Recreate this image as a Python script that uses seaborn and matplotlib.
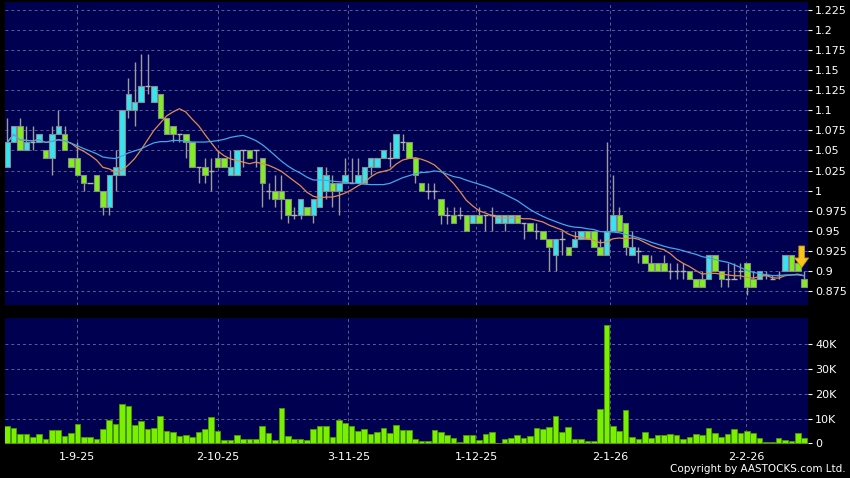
import numpy as np
import pandas as pd
import seaborn as sns
import matplotlib.pyplot as plt

# daily OHLC (HKD), one entry per trading day
opens = [1.03, 1.06, 1.08, 1.05, 1.06, 1.06, 1.05, 1.04, 1.07, 1.07,
         1.04, 1.04, 1.02, 1.01, 1.02, 1.00, 0.98, 1.02, 1.02, 1.10,
         1.10, 1.11, 1.13, 1.11, 1.12, 1.09, 1.08, 1.07, 1.07, 1.06,
         1.03, 1.03, 1.025, 1.04, 1.04, 1.02, 1.02, 1.05, 1.05, 1.05,
         1.04, 1.00, 1.00, 1.00, 0.99, 0.97, 0.97, 0.98, 0.97, 0.98,
         1.00, 1.01, 1.00, 1.01, 1.01, 1.01, 1.01, 1.03, 1.03, 1.04,
         1.04, 1.04, 1.06, 1.06, 1.04, 1.01, 1.00, 1.00, 0.99, 0.97,
         0.97, 0.97, 0.97, 0.96, 0.97, 0.97, 0.97, 0.96, 0.96, 0.96,
         0.97, 0.96, 0.96, 0.95, 0.95, 0.94, 0.92, 0.94, 0.93, 0.93,
         0.94, 0.95, 0.95, 0.93, 0.92, 0.95, 0.97, 0.96, 0.92, 0.925,
         0.92, 0.91, 0.91, 0.91, 0.90, 0.90, 0.90, 0.90, 0.89, 0.89,
         0.89, 0.92, 0.90, 0.89, 0.89, 0.90, 0.91, 0.89, 0.89, 0.895,
         0.89, 0.895, 0.90, 0.92, 0.91, 0.89]
highs = [1.09, 1.08, 1.09, 1.08, 1.08, 1.07, 1.05, 1.08, 1.10, 1.08,
         1.04, 1.06, 1.02, 1.01, 1.02, 1.00, 1.02, 1.05, 1.10, 1.14,
         1.16, 1.17, 1.17, 1.13, 1.12, 1.09, 1.08, 1.07, 1.07, 1.06,
         1.03, 1.04, 1.04, 1.05, 1.04, 1.05, 1.05, 1.05, 1.05, 1.05,
         1.04, 1.01, 1.02, 1.02, 0.99, 0.98, 0.99, 0.98, 0.99, 1.03,
         1.03, 1.02, 1.01, 1.04, 1.04, 1.04, 1.03, 1.04, 1.04, 1.05,
         1.06, 1.07, 1.07, 1.06, 1.04, 1.01, 1.01, 1.01, 0.99, 0.98,
         0.98, 0.98, 0.97, 0.97, 0.98, 0.97, 0.98, 0.97, 0.97, 0.97,
         0.97, 0.96, 0.96, 0.96, 0.95, 0.94, 0.94, 0.95, 0.93, 0.95,
         0.95, 0.95, 0.95, 0.94, 1.06, 1.02, 0.98, 0.96, 0.95, 0.93,
         0.92, 0.92, 0.91, 0.92, 0.91, 0.91, 0.91, 0.90, 0.89, 0.90,
         0.92, 0.92, 0.90, 0.91, 0.91, 0.91, 0.91, 0.90, 0.90, 0.90,
         0.895, 0.90, 0.92, 0.92, 0.91, 0.90]
lows = [1.03, 1.06, 1.05, 1.05, 1.05, 1.06, 1.04, 1.02, 1.07, 1.05,
        1.03, 1.02, 1.00, 1.01, 1.00, 0.97, 0.97, 1.00, 1.02, 1.09,
        1.08, 1.11, 1.12, 1.11, 1.09, 1.07, 1.06, 1.06, 1.04, 1.03,
        1.01, 1.01, 1.00, 1.03, 1.03, 1.02, 1.02, 1.03, 1.04, 1.03,
        0.98, 0.99, 0.98, 0.965, 0.96, 0.965, 0.965, 0.97, 0.96, 0.98,
        0.99, 0.98, 0.97, 1.01, 1.01, 1.01, 1.01, 1.02, 1.03, 1.04,
        1.03, 1.04, 1.05, 1.04, 1.01, 1.00, 0.99, 0.99, 0.958, 0.958,
        0.96, 0.965, 0.95, 0.96, 0.96, 0.95, 0.95, 0.96, 0.95, 0.96,
        0.96, 0.94, 0.95, 0.94, 0.94, 0.90, 0.90, 0.92, 0.92, 0.93,
        0.94, 0.94, 0.93, 0.92, 0.92, 0.95, 0.95, 0.92, 0.92, 0.91,
        0.91, 0.90, 0.90, 0.90, 0.89, 0.89, 0.89, 0.89, 0.88, 0.88,
        0.89, 0.90, 0.88, 0.88, 0.89, 0.89, 0.87, 0.88, 0.89, 0.89,
        0.89, 0.89, 0.90, 0.90, 0.90, 0.88]
closes = [1.06, 1.08, 1.05, 1.06, 1.06, 1.07, 1.04, 1.07, 1.08, 1.05,
          1.03, 1.02, 1.01, 1.01, 1.00, 0.98, 1.02, 1.03, 1.10, 1.12,
          1.11, 1.13, 1.13, 1.13, 1.09, 1.07, 1.07, 1.07, 1.06, 1.03,
          1.03, 1.02, 1.025, 1.03, 1.03, 1.03, 1.05, 1.05, 1.04, 1.05,
          1.01, 1.00, 0.99, 0.99, 0.97, 0.97, 0.99, 0.97, 0.99, 1.03,
          1.02, 1.00, 1.01, 1.02, 1.01, 1.02, 1.03, 1.04, 1.04, 1.05,
          1.04, 1.07, 1.06, 1.04, 1.02, 1.00, 1.00, 1.00, 0.97, 0.97,
          0.96, 0.97, 0.95, 0.97, 0.96, 0.97, 0.97, 0.97, 0.97, 0.97,
          0.96, 0.96, 0.95, 0.95, 0.94, 0.93, 0.94, 0.94, 0.92, 0.94,
          0.95, 0.94, 0.93, 0.92, 0.95, 0.97, 0.95, 0.93, 0.93, 0.925,
          0.91, 0.90, 0.90, 0.90, 0.90, 0.90, 0.90, 0.89, 0.88, 0.88,
          0.92, 0.90, 0.89, 0.89, 0.89, 0.90, 0.88, 0.88, 0.90, 0.895,
          0.89, 0.895, 0.92, 0.90, 0.90, 0.88]
# volume in thousands of shares
volumes = [7.0, 6.0, 3.8, 3.8, 2.7, 3.6, 1.9, 5.3, 5.3, 3.1,
           4.0, 7.9, 2.6, 2.7, 1.8, 5.8, 9.3, 7.8, 15.8, 15.1,
           7.3, 9.2, 5.8, 6.2, 11.0, 4.9, 4.6, 3.1, 3.2, 2.6,
           4.7, 5.8, 10.5, 4.9, 1.3, 1.3, 3.2, 1.8, 1.8, 1.9,
           6.9, 4.2, 1.3, 14.3, 2.8, 1.8, 1.8, 1.3, 5.8, 7.0,
           6.8, 2.6, 9.6, 8.4, 7.0, 4.9, 5.6, 3.8, 4.4, 6.0,
           4.0, 7.4, 5.4, 5.5, 1.6, 0.9, 1.1, 5.4, 4.4, 3.4,
           2.3, 0.7, 3.4, 3.4, 1.5, 3.8, 4.4, 0.0, 1.9, 2.3,
           3.5, 2.2, 3.0, 6.1, 5.7, 6.5, 10.9, 4.6, 6.5, 1.9,
           1.8, 0.9, 0.9, 14.0, 47.8, 6.9, 5.1, 13.6, 2.7, 1.8,
           4.6, 2.2, 3.5, 3.5, 3.6, 3.4, 1.8, 2.6, 3.9, 3.4,
           6.3, 4.3, 2.7, 3.9, 5.7, 4.2, 4.9, 4.0, 2.2, 0.5,
           0.5, 2.0, 1.2, 0.9, 4.0, 2.2]

date_labels = ["1-9-25", "2-10-25", "3-11-25", "1-12-25", "2-1-26", "2-2-26"]
date_pos = [11, 33, 53.5, 73.6, 94.6, 115.9]
price_ticks = [0.875, 0.9, 0.925, 0.95, 0.975, 1, 1.025, 1.05, 1.075,
               1.1, 1.125, 1.15, 1.175, 1.2, 1.225]
vol_ticks = [0, 10000, 20000, 30000, 40000]

df = pd.DataFrame({"open": opens, "high": highs, "low": lows,
                   "close": closes, "volume": np.array(volumes) * 1000})
df["day"] = np.arange(len(df))
df["ma10"] = df["close"].rolling(10, min_periods=1).mean()
df["ma20"] = df["close"].rolling(20, min_periods=1).mean()

navy = "#000050"
gridc = "#5c5c96"
up_c = "#35e6f2"
down_c = "#80f01c"

sns.set_style("dark")
plt.rcParams["font.family"] = ["DejaVu Sans"]

fig = plt.figure(figsize=(8.5, 4.78), dpi=100, facecolor="black")
axp = fig.add_axes([0.0059, 0.362, 0.9447, 0.634])
axv = fig.add_axes([0.0059, 0.071, 0.9447, 0.2636])

# candles
up = df[df.close > df.open]
down = df[df.close < df.open]
flat = df[df.close == df.open]
axp.vlines(df.day, df.low, df.high, color="#9c9c9c", lw=1, zorder=2)
axp.bar(up.day, up.close - up.open, bottom=up.open, width=0.86,
        color=up_c, edgecolor="#8a8a8a", lw=0.8, zorder=3)
axp.bar(down.day, down.open - down.close, bottom=down.close, width=0.86,
        color=down_c, edgecolor="#8a8a8a", lw=0.8, zorder=3)
axp.hlines(flat.close, flat.day - 0.43, flat.day + 0.43, color="#b4b4b4",
           lw=1, zorder=3)

# moving averages
sns.lineplot(data=df, x="day", y="ma10", ax=axp, color="#e38a52", lw=0.9, zorder=4)
sns.lineplot(data=df, x="day", y="ma20", ax=axp, color="#41a8ea", lw=0.9, zorder=4)

# yellow marker arrow on the latest bars
last = len(df) - 1
axp.annotate("", xy=(last - 0.4, closes[-2] + 0.004),
             xytext=(last - 0.4, closes[-2] + 0.031),
             arrowprops=dict(facecolor="#f7c51e", edgecolor="#d49a00", lw=0.6,
                             width=4, headwidth=10, headlength=7), zorder=6)

# volume
sns.barplot(data=df, x="day", y="volume", ax=axv, native_scale=True,
            color="#78f000", saturation=1, width=0.88,
            edgecolor="#4c9a00", linewidth=0.6, zorder=3)

for ax in (axp, axv):
    ax.set_facecolor(navy)
    ax.set_xlim(-0.35, 125.6)
    ax.set_xlabel("")
    ax.set_ylabel("")
    for s in ax.spines.values():
        s.set_visible(False)
    ax.set_xticks(date_pos)
    ax.grid(True, color=gridc, ls=(0, (3, 3)), lw=0.7)
    ax.set_axisbelow(True)
    ax.yaxis.tick_right()
    ax.tick_params(axis="y", direction="out", length=3, width=0.8,
                   color="white", labelcolor="white", labelsize=8, pad=2)

axp.set_ylim(0.8576, 1.235)
axp.set_yticks(price_ticks)
axp.set_yticklabels([f"{t:g}" for t in price_ticks])
axp.tick_params(axis="x", length=0, labelbottom=False)

axv.set_ylim(-300, 50600)
axv.set_yticks(vol_ticks)
axv.set_yticklabels(["0" if t == 0 else f"{t // 1000}K" for t in vol_ticks])
axv.set_xticklabels(date_labels)
axv.tick_params(axis="x", direction="out", length=3, width=0.8,
                color="white", labelcolor="white", labelsize=8, pad=3)

fig.text(0.995, 0.008, "Copyright by AASTOCKS.com Ltd.", color="white",
         fontsize=7.5, ha="right", va="bottom")

fig.savefig("out.png", dpi=100, facecolor="black")
